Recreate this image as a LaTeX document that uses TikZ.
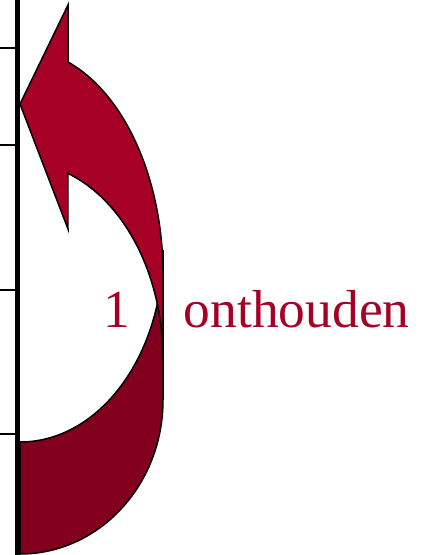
\documentclass[tikz,border=0pt]{standalone}
\usepackage{fontspec}
\setmainfont{Liberation Serif}
\usepackage{xcolor}
\usepackage{tikz}
\usetikzlibrary{positioning}
\definecolor{arrowred}{HTML}{A60026}
\definecolor{backred}{HTML}{82001E}

\begin{document}
\begin{tikzpicture}[x=1pt, y=-1pt,
    band/.style={draw=black, line width=1.5pt},
    tick/.style={line width=2pt},
    label/.style={text=arrowred, inner sep=0pt, font=\fontsize{53.5}{60}\selectfont}]
    \useasboundingbox (0,0) rectangle (430,555);
    % back part of the bent arrow
    \filldraw[band, fill=backred] (20,554)
        arc[start angle=90, end angle=0, x radius=143, y radius=154]
        -- (163,250)
        arc[start angle=0, end angle=90, x radius=143, y radius=192] -- cycle;
    % front part, with the head
    \filldraw[band, fill=arrowred] (68,62)
        arc[start angle=-70.4, end angle=0, x radius=143, y radius=226]
        -- (163,359)
        arc[start angle=0, end angle=-70.4, x radius=143, y radius=197]
        -- (68,229) -- (20,104) -- (68,5) -- cycle;
    % number line
    \coordinate (top) at (17.5,0);
    \coordinate (bottom) at (17.5,555);
    \draw[line width=5pt] (top) -- (bottom);
    \foreach \y in {48,145,290,434}
        \draw[tick] (0,\y) -- (15,\y);
    \node[label, anchor=base] (one) at (117,327) {1};
    \node[label, base right=53pt of one] (word) {onthouden};
\end{tikzpicture}
\end{document}
